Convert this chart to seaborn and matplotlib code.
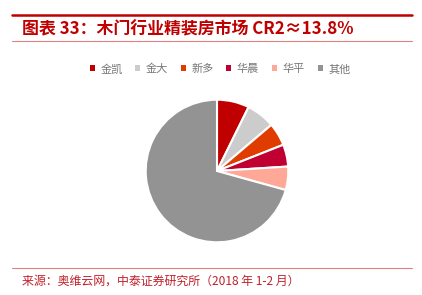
import matplotlib
matplotlib.use("Agg")
import matplotlib.pyplot as plt
import seaborn as sns
from matplotlib.lines import Line2D
from matplotlib.patches import Patch

categories = ["金凯", "金大", "新多", "华晨", "华平", "其他"]
shares = [7.3, 6.5, 5.2, 5.0, 5.3, 70.7]
colors = ["#C00000", "#CCCCCC", "#E03C00", "#C00030", "#FFA898", "#939393"]

title_text = "图表 33：木门行业精装房市场 CR2≈13.8%"
source_text = "来源：奥维云网，中泰证券研究所（2018 年 1-2 月）"

sns.set_theme(style="white")
plt.rcParams['font.family'] = ['Noto Sans CJK SC', 'DejaVu Sans']

W, H = 422, 295
fig = plt.figure(figsize=(W / 100, H / 100), dpi=100)
fig.patch.set_facecolor("white")

# decorative lines
fig.add_artist(Line2D([12 / W, 412 / W], [1 - 14.5 / H, 1 - 14.5 / H], color="#C00000", lw=1.8))
fig.add_artist(Line2D([12 / W, 412 / W], [1 - 41 / H, 1 - 41 / H], color="#E08080", lw=0.8))
fig.add_artist(Line2D([12 / W, 412 / W], [1 - 268 / H, 1 - 268 / H], color="#E08080", lw=0.8))

fig.text(22 / W, 1 - 29.5 / H, title_text, color="#C00000", fontsize=12.2,
         fontweight="bold", ha="left", va="center")
fig.text(22 / W, 1 - 281 / H, source_text, color="#C0202A", fontsize=8.6,
         ha="left", va="center")

cx, cy, r = 217, 171, 72
ax = fig.add_axes([(cx - r) / W, (H - cy - r) / H, 2 * r / W, 2 * r / H])
ax.pie(shares, colors=colors, startangle=90, counterclock=False, radius=1,
       wedgeprops=dict(edgecolor="white", linewidth=1.5))
ax.set_xlim(-1.01, 1.01)
ax.set_ylim(-1.01, 1.01)
ax.set_aspect("equal")
ax.axis("off")

handles = [Patch(facecolor=c, edgecolor="none") for c in colors]
leg = fig.legend(handles, categories, loc="center", bbox_to_anchor=(220 / W, 1 - 69 / H),
                 ncol=6, frameon=False, fontsize=8, handlelength=0.45, handleheight=0.45,
                 handletextpad=0.5, columnspacing=1.15, labelcolor="#777777")

fig.savefig("out.png", dpi=100, facecolor="white")
